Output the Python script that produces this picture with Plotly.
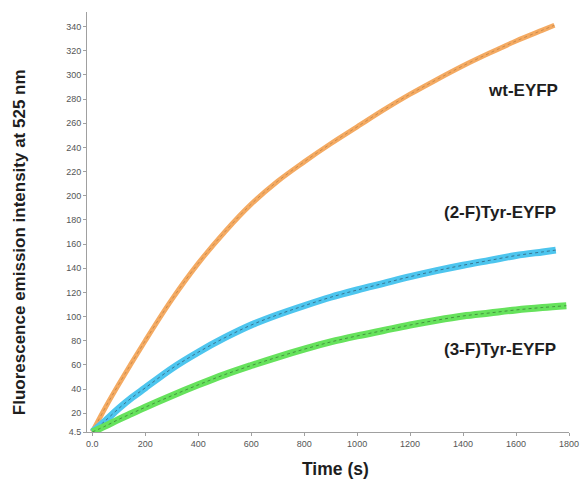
import plotly.graph_objects as go

# Time points (s) and fluorescence values
t_wt = [0, 50, 100, 200, 300, 400, 500, 600, 700, 800, 900, 1000, 1100, 1200, 1300, 1400, 1500, 1600, 1700, 1745]
v_wt = [4.5, 25, 44, 80, 114, 144, 170, 193, 212, 228, 243, 257, 271, 284, 296, 307.5, 318, 328, 337, 341]

t_2f = [0, 50, 100, 150, 200, 300, 400, 500, 600, 700, 800, 900, 1000, 1100, 1200, 1300, 1400, 1500, 1600, 1700, 1750]
v_2f = [4.5, 14, 24, 33, 41, 57, 70.5, 82.5, 93, 101.5, 109, 116, 122, 127.5, 133, 138, 142.5, 146.5, 150.5, 153.5, 155]

t_3f = [0, 50, 100, 150, 200, 300, 400, 500, 600, 700, 800, 900, 1000, 1100, 1200, 1300, 1400, 1500, 1600, 1700, 1790]
v_3f = [4.5, 9.5, 15, 20, 25, 34.5, 43.5, 52, 59.5, 66.5, 73, 79, 84, 88.5, 93, 97, 100.5, 103, 105.5, 107.5, 109]

series_names = ["wt-EYFP", "(2-F)Tyr-EYFP", "(3-F)Tyr-EYFP"]
colors = ["#F4AA62", "#4DC5EE", "#66E25C"]
band_widths = [5, 7, 7]
fit_colors = ["rgba(140,90,40,0.4)", "rgba(40,60,80,0.6)", "rgba(40,80,40,0.55)"]

x_ticks = [0, 200, 400, 600, 800, 1000, 1200, 1400, 1600, 1800]
x_labels = ["0.0", "200", "400", "600", "800", "1000", "1200", "1400", "1600", "1800"]
y_ticks = [4.5] + list(range(20, 341, 20))
y_labels = ["4.5"] + [str(v) for v in range(20, 341, 20)]

fig = go.Figure()
for (t, v), c, w, fc, name in zip([(t_wt, v_wt), (t_2f, v_2f), (t_3f, v_3f)], colors, band_widths,
                                  fit_colors, series_names):
    fig.add_trace(go.Scatter(x=t, y=v, mode="lines", name=name,
                             line=dict(color=c, width=w, shape="spline", smoothing=1.0),
                             showlegend=False, hoverinfo="skip"))
    fig.add_trace(go.Scatter(x=t, y=v, mode="lines", name=name + " fit",
                             line=dict(color=fc, width=1, dash="dot", shape="spline", smoothing=1.0),
                             showlegend=False, hoverinfo="skip"))

font_family = "Liberation Sans, Arial, sans-serif"
axis_common = dict(showgrid=False, zeroline=False, showline=True, linecolor="#a0a0a0", linewidth=1,
                   ticks="outside", ticklen=3, tickcolor="#a0a0a0", ticklabeloverflow="allow",
                   automargin=False,
                   tickfont=dict(family=font_family, size=9, color="#555555"))

label_font = dict(family=font_family, size=17, color="#1e1e1e")

fig.update_layout(
    width=580, height=479,
    margin=dict(l=87, r=11, t=12, b=47),
    paper_bgcolor="white", plot_bgcolor="white",
    xaxis=dict(range=[-20, 1800], tickvals=x_ticks, ticktext=x_labels, **axis_common),
    yaxis=dict(range=[4.5, 352], tickvals=y_ticks, ticktext=y_labels, **axis_common),
    annotations=[
        dict(x=1626, y=287, xref="x", yref="y", text="<b>wt-EYFP</b>", showarrow=False, font=label_font),
        dict(x=1540, y=186, xref="x", yref="y", text="<b>(2-F)Tyr-EYFP</b>", showarrow=False, font=label_font),
        dict(x=1540, y=73, xref="x", yref="y", text="<b>(3-F)Tyr-EYFP</b>", showarrow=False, font=label_font),
        dict(x=0.5155, y=-0.088, xref="paper", yref="paper", text="<b>Time (s)</b>", showarrow=False,
             xanchor="center", yanchor="middle",
             font=dict(family=font_family, size=17.5, color="#1e1e1e")),
        dict(x=-0.141, y=0.452, xref="paper", yref="paper",
             text="<b>Fluorescence emission intensity at 525 nm</b>", showarrow=False,
             textangle=-90, xanchor="center", yanchor="middle",
             font=dict(family=font_family, size=17, color="#1e1e1e")),
    ],
)

fig.write_html("out.html")
